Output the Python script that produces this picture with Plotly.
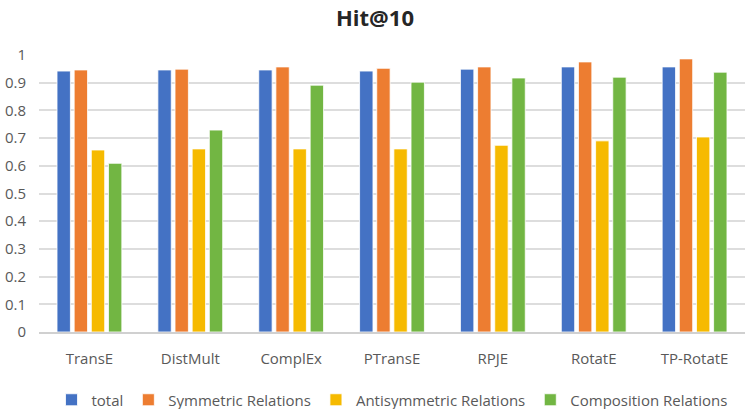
import plotly.graph_objects as go

categories = ["TransE", "DistMult", "ComplEx", "PTransE", "RPJE", "RotatE", "TP-RotatE"]
series_names = ["total", "Symmetric Relations", "Antisymmetric Relations", "Composition Relations"]
total = [0.942, 0.946, 0.946, 0.942, 0.949, 0.957, 0.957]
symmetric = [0.946, 0.949, 0.957, 0.952, 0.957, 0.975, 0.986]
antisymmetric = [0.657, 0.661, 0.661, 0.661, 0.674, 0.690, 0.704]
composition = [0.609, 0.729, 0.891, 0.902, 0.917, 0.920, 0.938]
colors = ["#4472C4", "#ED7D31", "#F6BA00", "#72B643"]

fig = go.Figure()
for name, vals, c in zip(series_names, [total, symmetric, antisymmetric, composition], colors):
    fig.add_trace(go.Bar(x=categories, y=vals, name=name,
                         marker=dict(color=c, line=dict(color="white", width=0.8))))

font_family = "Open Sans, Liberation Sans, sans-serif"
fig.update_layout(
    width=750, height=409,
    margin=dict(l=36, r=5, t=55, b=77),
    paper_bgcolor="white", plot_bgcolor="white",
    title=dict(text="<b>Hit@10</b>", x=0.5, xanchor="center", y=0.955, yanchor="middle",
               font=dict(family=font_family, size=22, color="#262626")),
    barmode="group", bargap=0.32, bargroupgap=0.22,
    font=dict(family=font_family, size=15, color="#595959"),
    xaxis=dict(showgrid=False, showline=True, linecolor="#D0D0D0", linewidth=1.5,
               ticks="outside", ticklen=12, tickcolor="rgba(0,0,0,0)",
               tickfont=dict(size=15, color="#595959")),
    yaxis=dict(range=[0, 1], dtick=0.1, showgrid=True, gridcolor="#DDDDDD", gridwidth=1.5,
               zeroline=False, showline=False, ticks="", ticklabelstandoff=12,
               tickfont=dict(size=15, color="#595959")),
    legend=dict(orientation="h", x=0.5, xanchor="center", yref="container", y=0.022, yanchor="middle",
                font=dict(size=15, color="#595959"), itemwidth=30),
)
fig.write_html("out.html")
